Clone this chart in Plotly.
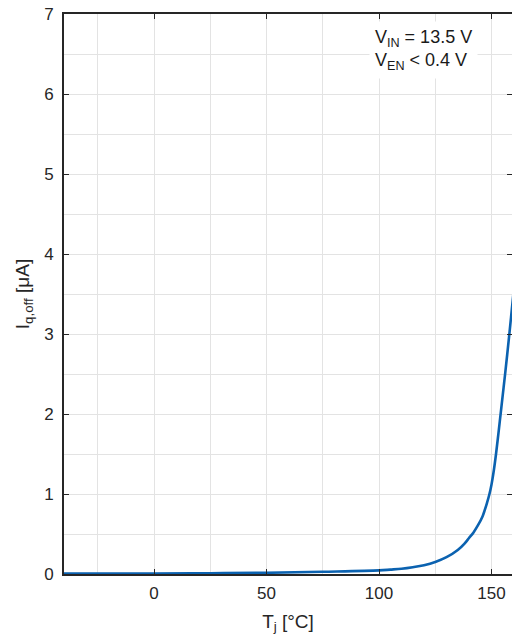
import plotly.graph_objects as go

temp_c = [-40, 0, 25, 50, 75, 100, 105, 110, 115, 120, 125, 130, 135, 138, 140, 142, 144, 146, 147, 148, 149, 150, 151, 152, 153, 154, 155, 156, 157, 158, 159, 160]
iq_off_uA = [0.005, 0.007, 0.01, 0.015, 0.028, 0.045, 0.055, 0.066, 0.085, 0.11, 0.15, 0.21, 0.3, 0.38, 0.45, 0.52, 0.61, 0.72, 0.8, 0.89, 0.99, 1.12, 1.29, 1.5, 1.74, 1.99, 2.24, 2.49, 2.75, 3.02, 3.3, 3.58]

x_ticks = [0, 50, 100, 150]
y_ticks = [0, 1, 2, 3, 4, 5, 6, 7]

font_family = "Liberation Sans, Arial, sans-serif"
axis_color = "#262626"
grid_color = "#e3e3e3"

fig = go.Figure()
fig.add_trace(go.Scatter(
    x=temp_c, y=iq_off_uA, mode="lines",
    line=dict(color="#0b62b0", width=2.6, shape="spline", smoothing=1.0),
    showlegend=False, hoverinfo="skip",
))

fig.update_layout(
    width=512, height=643,
    margin=dict(l=64, r=0, t=14, b=69, autoexpand=False),
    paper_bgcolor="white", plot_bgcolor="white",
    font=dict(family=font_family, size=17, color=axis_color),
)

fig.update_xaxes(
    range=[-40, 159.1], tickvals=x_ticks, ticktext=[str(v) for v in x_ticks],
    ticks="inside", ticklen=5, tickwidth=1.3, tickcolor=axis_color,
    showline=True, linecolor=axis_color, linewidth=1.6, mirror="ticks",
    showgrid=True, gridcolor=grid_color, gridwidth=1,
    minor=dict(dtick=25, tick0=0, showgrid=True, gridcolor=grid_color, gridwidth=1, ticks=""),
    zeroline=False, automargin=False, ticklabelstandoff=3,
    title=dict(text="T<sub>j</sub> [°C]", font=dict(size=19), standoff=12),
    tickfont=dict(size=17),
)
fig.update_yaxes(
    range=[0, 7], tickvals=y_ticks, ticktext=[str(v) for v in y_ticks],
    ticks="inside", ticklen=5, tickwidth=1.3, tickcolor=axis_color,
    showline=True, linecolor=axis_color, linewidth=1.6, mirror="ticks",
    showgrid=True, gridcolor=grid_color, gridwidth=1,
    minor=dict(dtick=0.5, tick0=0, showgrid=True, gridcolor=grid_color, gridwidth=1, ticks=""),
    zeroline=False, automargin=False, ticklabelstandoff=5,
    title=dict(text="I<sub>q,off</sub> [μA]", font=dict(size=19), standoff=10),
    tickfont=dict(size=17),
)

fig.add_annotation(
    xref="paper", yref="paper", x=0.68, y=0.988, xanchor="left", yanchor="top",
    text="V<sub>IN</sub> = 13.5 V<br>V<sub>EN</sub> < 0.4 V",
    showarrow=False, align="left", bgcolor="white", borderpad=5,
    font=dict(size=18, color="#1a1a1a", family=font_family),
)

fig.write_html("out.html", config={"displayModeBar": False},
               post_script="document.body.style.margin='0';")
